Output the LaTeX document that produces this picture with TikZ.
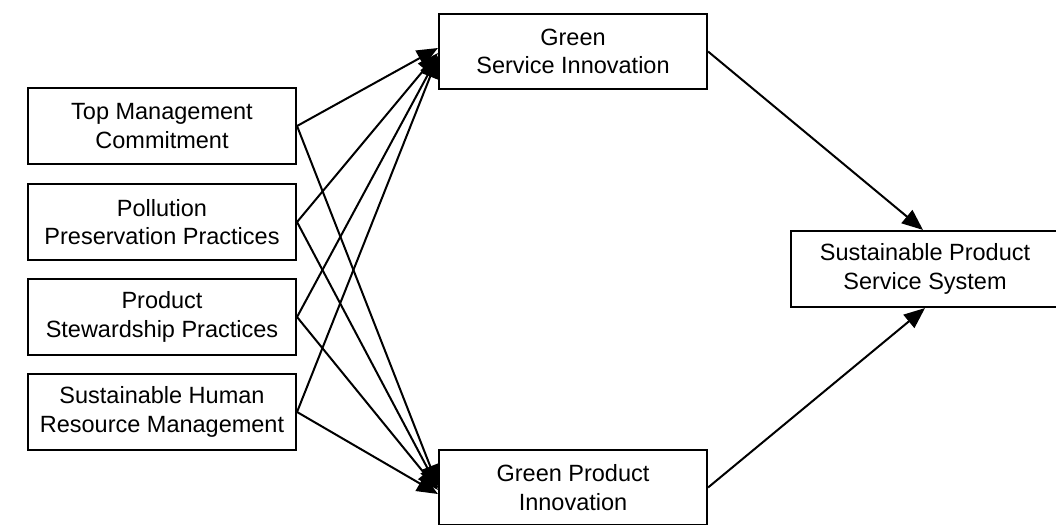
\documentclass[tikz,border=0pt]{standalone}
\usepackage{fontspec}
\setmainfont{Liberation Sans}
\usetikzlibrary{arrows.meta}
\begin{document}
\begin{tikzpicture}[x=1pt,y=-1pt,
  box/.style={draw=black, line width=2.1pt, fill=white, minimum width=268pt, minimum height=76pt,
    inner sep=0pt, align=center, font=\fontsize{23.5}{28.5}\selectfont},
  arr/.style={line width=2pt, -{Triangle[length=21pt,width=17pt]}}]
\useasboundingbox (0,0) rectangle (1056,524);
\clip (0,0) rectangle (1056,524);
\node[box] (tmc) at (162,126) {Top Management\\Commitment};
\node[box] (ppp) at (162,222) {Pollution\\Preservation Practices};
\node[box] (psp) at (162,317) {Product\\Stewardship Practices};
\node[box] (shrm) at (162,412) {Sustainable Human\\Resource Management};
\node[box, minimum height=75pt] (gsi) at (573,51.5) {Green\\Service Innovation};
\node[box, minimum height=75pt] (gpi) at (573,487.5) {Green Product\\Innovation};
\node[box] (spss) at (925,269) {Sustainable Product\\Service System};
\draw[arr] (tmc.east) -- ([yshift=3.5pt]gsi.west);
\draw[arr] (ppp.east) -- ([yshift=-1.5pt]gsi.west);
\draw[arr] (psp.east) -- ([yshift=-4.5pt]gsi.west);
\draw[arr] (shrm.east) -- ([yshift=-5.5pt]gsi.west);
\draw[arr] (tmc.east) -- ([yshift=1.5pt]gpi.west);
\draw[arr] (ppp.east) -- ([yshift=-0.5pt]gpi.west);
\draw[arr] (psp.east) -- ([yshift=-2.5pt]gpi.west);
\draw[arr] (shrm.east) -- ([yshift=-6.5pt]gpi.west);
\draw[arr] (gsi.east) -- ([xshift=-2pt]spss.north);
\draw[arr] (gpi.east) -- (spss.south);
\end{tikzpicture}
\end{document}
